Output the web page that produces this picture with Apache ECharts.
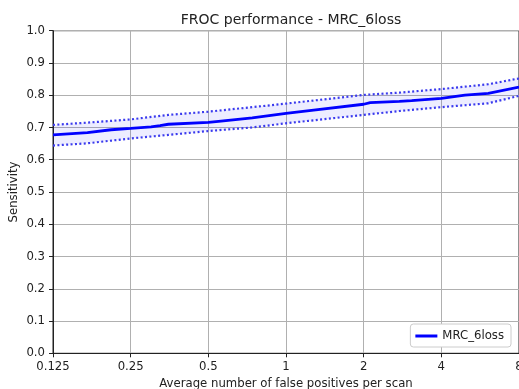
<!DOCTYPE html>
<html>
<head>
<meta charset="utf-8">
<script src="https://cdn.jsdelivr.net/npm/echarts@6/dist/echarts.min.js"></script>
<style>
html,body{margin:0;padding:0;background:#fff;}
#chart{width:519px;height:389px;}
</style>
</head>
<body>
<div id="chart"></div>
<script>
var titleText = 'FROC performance - MRC_6loss';
var seriesName = 'MRC_6loss';
var xTicks = [0.125, 0.25, 0.5, 1, 2, 4, 8];
var fps = [0.125, 0.17, 0.21, 0.25, 0.3, 0.325, 0.35, 0.5, 0.56, 0.74, 1, 1.28, 2, 2.12, 2.75, 3.07, 4, 4.94, 6.08, 8];
var sens = [0.677, 0.684, 0.693, 0.697, 0.702, 0.706, 0.710, 0.716, 0.720, 0.730, 0.744, 0.754, 0.772, 0.777, 0.781, 0.783, 0.790, 0.800, 0.806, 0.825];
var fpsCI = [0.125, 0.17, 0.25, 0.35, 0.5, 0.74, 1, 2, 2.75, 4, 6.08, 8];
var upper = [0.708, 0.715, 0.725, 0.739, 0.749, 0.763, 0.774, 0.801, 0.808, 0.819, 0.834, 0.852];
var lower = [0.644, 0.651, 0.666, 0.677, 0.689, 0.700, 0.713, 0.739, 0.751, 0.763, 0.775, 0.798];

function pairs(xs, ys){ return xs.map(function(x,i){ return [x, ys[i]]; }); }
var font = 'DejaVu Sans';
var txt = '#222';

var chart = echarts.init(document.getElementById('chart'), null, {renderer:'canvas'});
chart.setOption({
  animation: false,
  backgroundColor: '#fff',
  title: {
    text: titleText, left: 286, top: 8, textAlign: 'center',
    textStyle: {fontFamily: font, fontSize: 14, fontWeight: 'normal', color: txt}
  },
  grid: {left: 53, right: 0, top: 30.7, bottom: 35.7, show: true, borderColor: '#222', borderWidth: 1,
    containLabel: false, outerBoundsMode: 'none'},
  legend: {
    data: [seriesName], right: 8, bottom: 42, orient: 'vertical',
    icon: 'rect', itemWidth: 22, itemHeight: 3, itemGap: 6,
    padding: [6, 7, 5, 5], borderColor: '#cccccc', borderWidth: 1, borderRadius: 3, backgroundColor: '#fff',
    textStyle: {fontFamily: font, fontSize: 11.7, color: txt}
  },
  xAxis: {
    type: 'log', logBase: 2, min: 0.125, max: 8,
    name: 'Average number of false positives per scan', nameLocation: 'middle', nameGap: 25,
    nameMoveOverlap: false,
    nameTextStyle: {fontFamily: font, fontSize: 11.7, color: txt},
    axisLine: {show: true, lineStyle: {color: '#222', width: 1}},
    axisTick: {show: true, length: 4, lineStyle: {color: '#222'}},
    splitLine: {show: true, lineStyle: {color: '#b0b0b0', width: 1}},
    minorTick: {show: false},
    axisLabel: {fontFamily: font, fontSize: 11.7, color: txt, margin: 8,
      formatter: function(v){ var r = Math.round(v*1000)/1000; return xTicks.indexOf(r) >= 0 ? String(r) : ''; }}
  },
  yAxis: {
    type: 'value', min: 0, max: 1, interval: 0.1,
    name: 'Sensitivity', nameLocation: 'middle', nameGap: 33, nameRotate: 90,
    nameMoveOverlap: false,
    nameTextStyle: {fontFamily: font, fontSize: 11.7, color: txt},
    axisLine: {show: true, lineStyle: {color: '#222', width: 1}},
    axisTick: {show: true, length: 4, lineStyle: {color: '#222'}},
    splitLine: {show: true, lineStyle: {color: '#b0b0b0', width: 1}},
    axisLabel: {fontFamily: font, fontSize: 11.7, color: txt, margin: 8,
      formatter: function(v){ return v.toFixed(1); }}
  },
  series: [
    {
      type: 'custom', name: 'band', silent: true, z: 1,
      data: [[0]],
      renderItem: function(params, api){
        var pts = [];
        for (var i = 0; i < fpsCI.length; i++) pts.push(api.coord([fpsCI[i], upper[i]]));
        for (var j = fpsCI.length - 1; j >= 0; j--) pts.push(api.coord([fpsCI[j], lower[j]]));
        return {type: 'polygon', shape: {points: pts}, style: {fill: 'rgba(0,0,255,0.07)'}};
      }
    },
    {
      type: 'line', name: 'upper', data: pairs(fpsCI, upper), showSymbol: false, z: 3,
      lineStyle: {color: '#3a3aee', width: 2.2, type: [2, 2.4], cap: 'butt'}
    },
    {
      type: 'line', name: 'lower', data: pairs(fpsCI, lower), showSymbol: false, z: 3,
      lineStyle: {color: '#3a3aee', width: 2.2, type: [2, 2.4], cap: 'butt'}
    },
    {
      type: 'line', name: seriesName, data: pairs(fps, sens), showSymbol: false, z: 4,
      itemStyle: {color: '#0000ff'},
      lineStyle: {color: '#0000ff', width: 2.8}
    }
  ]
});
</script>
</body>
</html>
